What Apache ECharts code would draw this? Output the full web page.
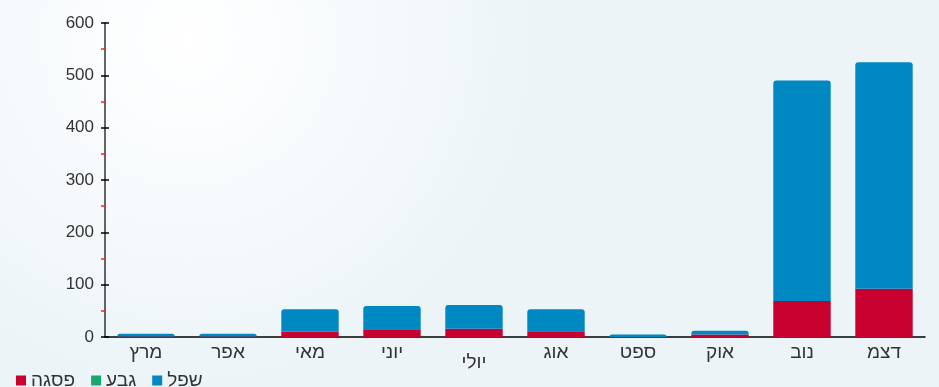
<!DOCTYPE html>
<html><head><meta charset="utf-8">
<style>html,body{margin:0;padding:0;}#c{width:939px;height:387px;}</style>
<script src="https://cdn.jsdelivr.net/npm/echarts@6/dist/echarts.min.js"></script>
</head><body><div id="c"></div>
<script>
const categories = ['מרץ','אפר','מאי','יוני','יולי','אוג','ספט','אוק','נוב','דצמ'];
const peak = [1, 1, 10, 15, 16, 11, 0, 5, 69, 92];      // פסגה
const shoulder = [0, 0, 0, 0, 0, 0, 0, 0, 0, 0];         // גבע
const offPeak = [5, 5, 43, 44, 45, 42, 5, 7, 421, 433];  // שפל
const yTicks = [0, 100, 200, 300, 400, 500, 600];

const chart = echarts.init(document.getElementById('c'));
const font = 'Liberation Sans, Arial, sans-serif';
const hfont = 'Liberation Sans, Arial, sans-serif';
chart.setOption({
  backgroundColor: {
    type: 'radial', x: 0.2, y: 0.1, r: 0.9,
    colorStops: [{offset: 0, color: '#ffffff'}, {offset: 0.5, color: '#f6fafc'}, {offset: 1, color: '#ecf4f8'}]
  },
  animation: false,
  grid: {left: 105, right: 14, top: 23, bottom: 50},
  legend: {
    left: 11, top: 366, itemWidth: 10, itemHeight: 10, itemGap: 16,
    icon: 'rect',
    textStyle: {fontFamily: hfont, fontSize: 19, color: '#333'},
    data: ['פסגה', 'גבע', 'שפל']
  },
  xAxis: {
    type: 'category', data: categories,
    axisLine: {lineStyle: {color: '#000', width: 1.5}},
    axisTick: {show: false},
    axisLabel: {
      interval: 0,
      fontFamily: hfont, fontSize: 19, color: '#333', margin: 6,
      formatter: (v, i) => i === 4 ? '{low|' + v + '}' : v,
      rich: {low: {fontFamily: hfont, fontSize: 19, color: '#333', padding: [10, 0, 0, 0]}}
    }
  },
  yAxis: [{
    type: 'value', min: 0, max: 600, interval: 100,
    axisLine: {show: true, lineStyle: {color: '#333', width: 1.5}},
    axisTick: {show: true, length: 4, lineStyle: {color: '#000', width: 1.5}},
    minorTick: {show: true, splitNumber: 2, length: 4, lineStyle: {color: '#ff2020', width: 1.5}},
    splitLine: {show: false},
    axisLabel: {fontFamily: font, fontSize: 17, color: '#333', margin: 11,
      formatter: v => yTicks.includes(v) ? String(v) : ''}
  }, {
    type: 'value', min: 0, max: 600, interval: 100, position: 'left',
    axisLine: {show: false},
    axisTick: {show: true, inside: true, length: 4, lineStyle: {color: '#000', width: 1.5}},
    splitLine: {show: false},
    axisLabel: {show: false}
  }],
  series: [
    {name: 'פסגה', type: 'bar', stack: 't', data: peak, barWidth: '70%',
      itemStyle: {color: '#c8002f'}},
    {name: 'גבע', type: 'bar', stack: 't', data: shoulder, barWidth: '70%',
      itemStyle: {color: '#17a86b'}},
    {name: 'שפל', type: 'bar', stack: 't', data: offPeak, barWidth: '70%',
      itemStyle: {color: '#0088c2', borderRadius: [3, 3, 0, 0]}}
  ]
});
</script></body></html>
